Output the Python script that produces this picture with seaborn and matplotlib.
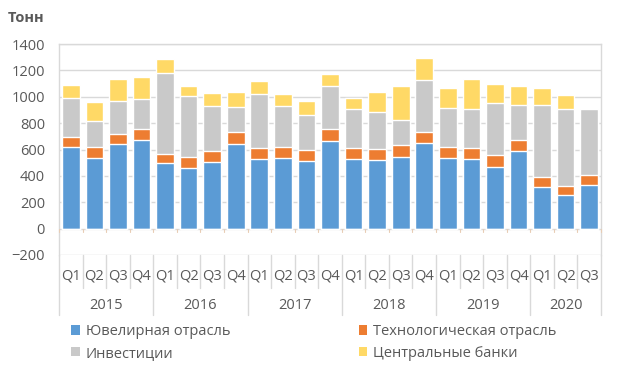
import numpy as np
import pandas as pd
import matplotlib.pyplot as plt
from matplotlib.patches import Patch
import matplotlib.transforms as mtransforms
import seaborn as sns

# Data (tonnes)
years = ["2015", "2016", "2017", "2018", "2019", "2020"]
quarters = ["Q1", "Q2", "Q3", "Q4"]
n_quarters = [4, 4, 4, 4, 4, 3]

jewellery = [617, 538, 642, 675, 495, 462, 508, 644, 526, 536, 513, 662,
             526, 523, 543, 647, 536, 526, 468, 589, 318, 253, 331]
technology = [80, 79, 78, 78, 71, 79, 83, 86, 83, 83, 86, 91,
              86, 78, 91, 88, 81, 83, 88, 83, 71, 70, 78]
investment = [294, 197, 245, 233, 617, 462, 342, 190, 415, 314, 265, 326,
              295, 286, 192, 395, 295, 296, 399, 268, 551, 582, 496]
central_banks = [98, 146, 170, 161, 106, 81, 96, 114, 93, 91, 101, 94,
                 81, 149, 258, 166, 154, 230, 144, 144, 126, 111, -10]

series_names = ["Ювелирная отрасль", "Технологическая отрасль",
                "Инвестиции", "Центральные банки"]
colors = ["#5B9BD5", "#ED7D31", "#C9C9C9", "#FFD966"]

labels = []
for y, n in zip(years, n_quarters):
    for q in quarters[:n]:
        labels.append(y + " " + q)

df = pd.DataFrame({"period": labels, "jew": jewellery, "tech": technology,
                   "inv": investment, "cb": central_banks})
df["c1"] = df["jew"]
df["c2"] = df["c1"] + df["tech"]
df["c3"] = df["c2"] + df["inv"]
df["c4"] = df["c3"] + df["cb"].clip(lower=0)
df["neg"] = df["cb"].clip(upper=0)

sns.set_theme(style="white")
plt.rcParams["font.family"] = ["Open Sans", "DejaVu Sans"]
text_col = "#595959"
grid_col = "#D9D9D9"

fig = plt.figure(figsize=(6.2, 3.71), dpi=100)
ax = fig.add_axes([59 / 620, 1 - 255 / 371, 542 / 620, 211 / 371])

# stacked bars drawn as cumulative totals, top layer first
for col, c in zip(["c4", "c3", "c2", "c1"], colors[::-1]):
    sns.barplot(data=df, x="period", y=col, color=c, width=0.75,
                saturation=1, ax=ax, zorder=3)
sns.barplot(data=df, x="period", y="neg", color=colors[3], width=0.75,
            saturation=1, ax=ax, zorder=3)

ax.set_xlim(-0.5, len(labels) - 0.5)
ax.set_ylim(-200, 1400)
ax.set_yticks(np.arange(-200, 1401, 200))
ax.yaxis.grid(True, color=grid_col, linewidth=1, zorder=0)
ax.set_axisbelow(True)
ax.tick_params(axis="y", length=0, labelsize=10.5, labelcolor=text_col, pad=10)
ax.set_xticks([])
ax.set_xlabel("")
ax.set_ylabel("")
for s in ["left", "right", "top"]:
    ax.spines[s].set_color(grid_col)
    ax.spines[s].set_linewidth(1)
ax.spines["bottom"].set_visible(False)

# category axis below the plot
trans = mtransforms.blended_transform_factory(ax.transData, ax.transAxes)
ytick0 = 200 / 1600
for i in range(len(labels) + 1):
    ax.plot([i - 0.5, i - 0.5], [ytick0, ytick0 - 0.015], color="#E8CDB5",
            lw=0.8, transform=trans, clip_on=False, zorder=4)

edges = np.concatenate([[0], np.cumsum(n_quarters)])
for i in range(len(labels) + 1):
    low = -0.285 if i in edges else -0.158
    ax.plot([i - 0.5, i - 0.5], [0, low], color=grid_col, lw=1,
            transform=trans, clip_on=False)
for i, lab in enumerate(labels):
    ax.text(i, -0.10, lab.split()[1], transform=trans, ha="center",
            va="center", fontsize=10.5, color=text_col)
for k, y in enumerate(years):
    mid = (edges[k] + edges[k + 1] - 1) / 2
    ax.text(mid, -0.237, y, transform=trans, ha="center", va="center",
            fontsize=10.5, color=text_col)

fig.text(8 / 620, 1 - 18 / 371, "Тонн", fontsize=10.5, fontweight="bold",
         color=text_col, va="center")

# legend fills column-wise, so order entries to get the reference rows
handles = [Patch(facecolor=c, edgecolor="none") for c in colors]
order = [0, 2, 1, 3]
fig.legend([handles[i] for i in order], [series_names[i] for i in order],
           ncol=2, frameon=False,
           loc="upper left", bbox_to_anchor=(58 / 620, 1 - 311 / 371),
           handlelength=0.6, handleheight=0.6, handletextpad=0.4,
           columnspacing=8.8, labelspacing=0.45, fontsize=10.5,
           labelcolor=text_col)

fig.savefig("out.png", dpi=100)
